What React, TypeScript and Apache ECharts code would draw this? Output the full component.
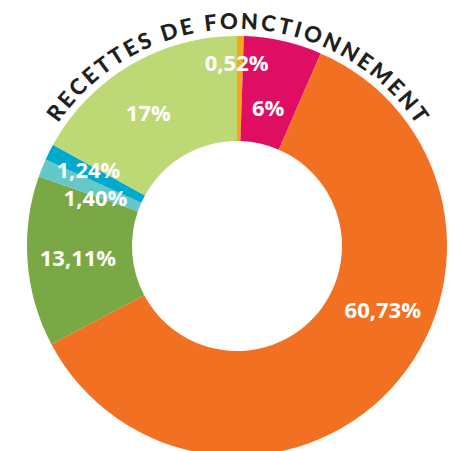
import React, { useEffect, useRef } from 'react';
import * as echarts from 'echarts';

const TITLE = 'RECETTES DE FONCTIONNEMENT';
const SLICE_NAMES = ['Part 1', 'Part 2', 'Part 3', 'Part 4', 'Part 5', 'Part 6', 'Part 7'];
const SLICE_VALUES = [0.52, 6, 60.73, 13.11, 1.4, 1.24, 17];
const SLICE_COLORS = ['#f7a61e', '#e00e62', '#f27022', '#79a844', '#64c8c8', '#00aacd', '#bdd976'];

// layout (pixels)
const W = 454;
const H = 451;
const CX = 237;
const CY = 246;
const R_IN = 105;
const R_OUT = 210;
const TITLE_R = 225.5;
const TITLE_SIZE = 22;
const TITLE_FAMILY = 'Lato';
const TITLE_WEIGHT = 900;
const TITLE_START_DEG = -53.6;
const TITLE_END_DEG = 54.3;
const LABEL_NUDGE: [number, number][] = [
  [-3, -24],
  [-4, 18],
  [28, -46],
  [1, -1],
  [7.5, 11],
  [-5, -5],
  [-7, 4.6],
];

function fmt(v: number): string {
  return (Number.isInteger(v) ? String(v) : v.toFixed(2).replace('.', ',')) + '%';
}

function letterStyle(c: string) {
  return {
    text: c,
    fontSize: TITLE_SIZE,
    fontWeight: TITLE_WEIGHT,
    fontFamily: TITLE_FAMILY,
    fill: '#231f20',
    align: 'center',
    verticalAlign: 'middle',
  };
}

function titleElements(): any[] {
  const chars = TITLE.split('');
  const widths = chars.map((c) => {
    const t = new (echarts.graphic as any).Text({ style: letterStyle(c === ' ' ? 'I' : c) });
    const w = t.getBoundingRect().width;
    return c === ' ' ? w * 0.8 : w;
  });
  const centers: number[] = [];
  let acc = 0;
  widths.forEach((w) => {
    centers.push(acc + w / 2);
    acc += w;
  });
  const n = chars.length;
  const raw = centers[n - 1] - centers[0];
  const span = ((TITLE_END_DEG - TITLE_START_DEG) * Math.PI) / 180;
  const ls = (span * TITLE_R - raw) / (n - 1);
  const start = (TITLE_START_DEG * Math.PI) / 180;
  const els: any[] = [];
  chars.forEach((c, i) => {
    if (c === ' ') return;
    const dist = centers[i] - centers[0] + ls * i;
    const th = start + dist / TITLE_R;
    els.push({
      type: 'text',
      x: CX + TITLE_R * Math.sin(th),
      y: CY - TITLE_R * Math.cos(th),
      rotation: -th,
      style: letterStyle(c),
    });
  });
  return els;
}

export default function App() {
  const ref = useRef<HTMLDivElement>(null);
  useEffect(() => {
    if (!ref.current) return;
    const chart = echarts.init(ref.current, null, { renderer: 'svg' });
    chart.setOption({
      animation: false,
      backgroundColor: '#ffffff',
      series: [
        {
          type: 'pie',
          center: [CX, CY],
          radius: [R_IN, R_OUT],
          startAngle: 90,
          clockwise: true,
          avoidLabelOverlap: false,
          silent: true,
          itemStyle: { borderWidth: 0 },
          label: {
            show: true,
            position: 'inside',
            formatter: (p: any) => fmt(p.value),
            color: '#ffffff',
            fontFamily: 'Open Sans',
            fontWeight: 'bold',
            fontSize: 22,
            lineHeight: 20,
          },
          labelLine: { show: false },
          labelLayout: (p: any) => ({ dx: LABEL_NUDGE[p.dataIndex][0], dy: LABEL_NUDGE[p.dataIndex][1] }),
          emphasis: { disabled: true },
          data: SLICE_VALUES.map((v, i) => ({
            name: SLICE_NAMES[i],
            value: v,
            itemStyle: { color: SLICE_COLORS[i] },
          })),
        },
      ],
      graphic: { elements: titleElements() },
    });
    return () => chart.dispose();
  }, []);
  return <div ref={ref} style={{ position: 'fixed', left: 0, top: 0, width: W, height: H }} />;
}
